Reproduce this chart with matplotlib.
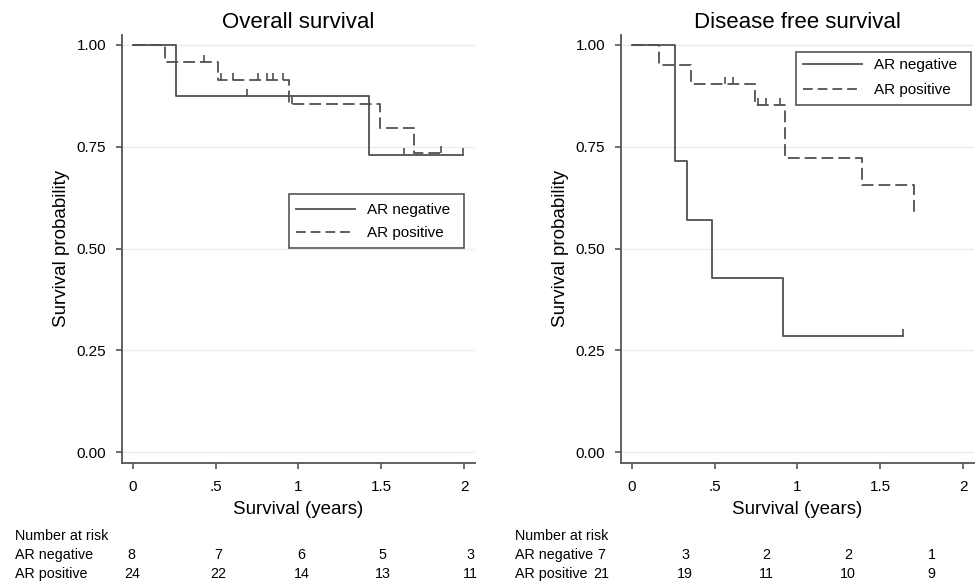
import numpy as np
import matplotlib
matplotlib.use("Agg")
import matplotlib.pyplot as plt
from matplotlib.patches import Rectangle

plt.rcParams['font.family'] = ['Liberation Sans', 'DejaVu Sans']
plt.rcParams['lines.scale_dashes'] = False

# ---------------- data ----------------
groups = ["AR negative", "AR positive"]

# Overall survival
os_neg_times = [0.0, 0.259, 1.427]
os_neg_surv = [1.0, 0.875, 0.729]
os_neg_end = 1.99
os_neg_censor = [0.691, 1.634, 1.99]

os_pos_times = [0.0, 0.195, 0.516, 0.945, 1.49, 1.697]
os_pos_surv = [1.0, 0.958, 0.914, 0.856, 0.795, 0.734]
os_pos_end = 1.858
os_pos_censor = [0.432, 0.531, 0.607, 0.758, 0.812, 0.848, 0.905, 0.96, 1.858]

# Disease free survival
dfs_neg_times = [0.0, 0.26, 0.331, 0.483, 0.91]
dfs_neg_surv = [1.0, 0.714, 0.571, 0.429, 0.286]
dfs_neg_end = 1.638
dfs_neg_censor = [1.638]

dfs_pos_times = [0.0, 0.166, 0.355, 0.742, 0.925, 1.39, 1.70]
dfs_pos_surv = [1.0, 0.952, 0.905, 0.852, 0.722, 0.656, 0.590]
dfs_pos_end = 1.70
dfs_pos_censor = [0.561, 0.611, 0.762, 0.812, 0.895]

# Number at risk
risk_times = [0, 0.5, 1, 1.5, 2]
os_risk_neg = [8, 7, 6, 5, 3]
os_risk_pos = [24, 22, 14, 13, 11]
dfs_risk_neg = [7, 3, 2, 2, 1]
dfs_risk_pos = [21, 19, 11, 10, 9]

xticks = [0, 0.5, 1, 1.5, 2]
xticklabels = ["0", ".5", "1", "1.5", "2"]
yticks = [0, 0.25, 0.5, 0.75, 1.0]
yticklabels = ["0.00", "0.25", "0.50", "0.75", "1.00"]

# ---------------- style ----------------
W, H = 976, 581
LC = '#505050'
AXC = '#555555'
DASH = (0, (8.5, 3.6))
AX_W, AX_TOP, AX_BOT = 353, 35, 462.7

fig = plt.figure(figsize=(W / 100, H / 100), dpi=100)


def px_axes(left, top, right, bottom):
    return fig.add_axes([left / W, 1 - bottom / H, (right - left) / W, (bottom - top) / H])


def level_at(times, surv, t):
    idx = np.searchsorted(times, t, side='right') - 1
    return np.asarray(surv)[idx]


def draw_curve(ax, times, surv, end, censor, ls):
    x = list(times) + [end]
    y = list(surv) + [surv[-1]]
    ax.step(x, y, where='post', color=LC, lw=1.3, ls=ls, zorder=3)
    cy = [level_at(times, surv, c) for c in censor]
    ax.plot(censor, cy, ls='none', marker=2, markersize=5, markeredgewidth=1.2,
            color=LC, zorder=3)


def style_axes(ax):
    ax.set_xlim(-0.0645, 2.0646)
    ax.set_ylim(-0.0255, 1.0245)
    for s in ['top', 'right']:
        ax.spines[s].set_visible(False)
    for s in ['left', 'bottom']:
        ax.spines[s].set_color(AXC)
        ax.spines[s].set_linewidth(1.3)
    ax.set_xticks(xticks)
    ax.set_xticklabels(xticklabels)
    ax.set_yticks(yticks)
    ax.set_yticklabels(yticklabels)
    ax.tick_params(axis='x', length=4, width=1.2, color=AXC, pad=8.5, labelsize=11)
    ax.tick_params(axis='y', length=4.5, width=1.2, color=AXC, pad=7, labelsize=11)
    for y in yticks:
        ax.axhline(y, color='#ebebeb', lw=1.0, zorder=0)


panels = [
    dict(left=122, title="Overall survival",
         neg=(os_neg_times, os_neg_surv, os_neg_end, os_neg_censor),
         pos=(os_pos_times, os_pos_surv, os_pos_end, os_pos_censor),
         box=(289, 194, 464, 248.3), handle_left=296, leg_top=203, lspace=0.6,
         risk=(os_risk_neg, os_risk_pos), risk_x=[131.7, 218, 301.7, 382.7, 470],
         text_x=15),
    dict(left=621, title="Disease free survival",
         neg=(dfs_neg_times, dfs_neg_surv, dfs_neg_end, dfs_neg_censor),
         pos=(dfs_pos_times, dfs_pos_surv, dfs_pos_end, dfs_pos_censor),
         box=(796, 51.7, 970.7, 105), handle_left=802.7, leg_top=58.5, lspace=0.68,
         risk=(dfs_risk_neg, dfs_risk_pos), risk_x=[601.7, 685, 766.7, 848.3, 931.7],
         text_x=515),
]

for p in panels:
    L = p['left']
    ax = px_axes(L, AX_TOP, L + AX_W, AX_BOT)
    style_axes(ax)
    draw_curve(ax, *p['neg'], ls='-')
    draw_curve(ax, *p['pos'], ls=DASH)

    def ax_x(px):
        return (px - L) / AX_W

    def ax_y(py):
        return (AX_BOT - py) / (AX_BOT - AX_TOP)

    # legend (frame drawn separately to match asymmetric padding)
    h1, = ax.plot([], [], color=LC, lw=1.3, ls='-')
    h2, = ax.plot([], [], color=LC, lw=1.3, ls=(0, (7, 3.6)))
    ax.legend([h1, h2], groups, loc='upper left',
              bbox_to_anchor=(ax_x(p['handle_left']), ax_y(p['leg_top'])),
              fontsize=11, frameon=False, handlelength=3.86,
              handletextpad=0.78, borderpad=0, labelspacing=p['lspace'],
              borderaxespad=0)
    bx0, by0, bx1, by1 = p['box']
    ax.add_patch(Rectangle((ax_x(bx0), ax_y(by1)), (bx1 - bx0) / AX_W,
                           (by1 - by0) / (AX_BOT - AX_TOP), transform=ax.transAxes,
                           facecolor='white', edgecolor=AXC, lw=1.2, zorder=4,
                           clip_on=False))
    ax.get_legend().set_zorder(5)

    ax.yaxis.set_label_coords(-0.147, 0.5)
    ax.set_ylabel("Survival probability", fontsize=13.5)
    cx = (L + L + AX_W) / 2
    fig.text(cx / W, 1 - 28 / H, p['title'], ha='center', va='baseline', fontsize=16)
    fig.text(cx / W, 1 - 514 / H, "Survival (years)", ha='center', va='baseline', fontsize=13.5)
    # number at risk table
    tx = p['text_x']
    fig.text(tx / W, 1 - 540 / H, "Number at risk", ha='left', va='baseline', fontsize=10.3)
    fig.text(tx / W, 1 - 559 / H, groups[0], ha='left', va='baseline', fontsize=10.3)
    fig.text(tx / W, 1 - 578 / H, groups[1], ha='left', va='baseline', fontsize=10.3)
    for xx, n1, n2 in zip(p['risk_x'], p['risk'][0], p['risk'][1]):
        fig.text(xx / W, 1 - 559 / H, str(n1), ha='center', va='baseline', fontsize=10.3)
        fig.text(xx / W, 1 - 578 / H, str(n2), ha='center', va='baseline', fontsize=10.3)

fig.savefig("out.png", dpi=100, facecolor='white')
